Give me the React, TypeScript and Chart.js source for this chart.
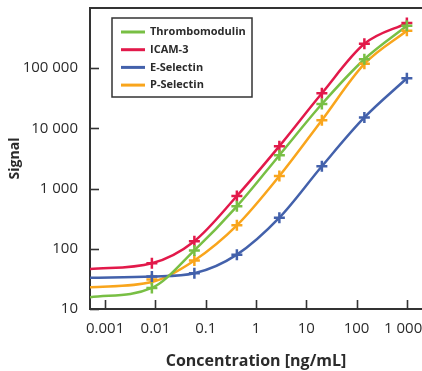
import React, { useEffect, useRef } from "react";
import { Chart, registerables } from "chart.js";

Chart.register(...registerables);

// ---- data ----
const concentrations = [0.0085, 0.0595, 0.4165, 2.915, 20.41, 142.9, 1000];
const fitConcentrations = [0.0005, 0.0085, 0.0595, 0.4165, 2.915, 20.41, 142.9, 1000];

const seriesLabels = ["Thrombomodulin", "ICAM-3", "E-Selectin", "P-Selectin"];
const seriesColors = ["#78bf44", "#e2194a", "#4361ab", "#f9a51c"];

const thrombomodulinSignal = [22.4, 94, 507, 3590, 25400, 141000, 507000];
const icam3Signal = [57.5, 134, 753, 5070, 38300, 254000, 562000];
const eSelectinSignal = [34.5, 39.2, 80, 329, 2350, 15200, 68100];
const pSelectinSignal = [31, 64, 245, 1620, 13700, 118000, 419000];

const thrombomodulinFit = [15.6, 22.4, 94, 507, 3590, 25400, 141000, 507000];
const icam3Fit = [46, 57.5, 134, 753, 5070, 38300, 254000, 562000];
const eSelectinFit = [32.9, 34.5, 39.2, 80, 329, 2350, 15200, 68100];
const pSelectinFit = [22.9, 28, 64, 245, 1620, 13700, 118000, 419000];

const xTickValues = [0.001, 0.01, 0.1, 1, 10, 100, 1000];
const xTickLabels = ["0.001", "0.01", "0.1", "1", "10", "100", "1 000"];
const yTickValues = [10, 100, 1000, 10000, 100000];
const yTickLabels = ["10", "100", "1 000", "10 000", "100 000"];

const xTitle = "Concentration [ng/mL]";
const yTitle = "Signal";

const signals = [thrombomodulinSignal, icam3Signal, eSelectinSignal, pSelectinSignal];
const fits = [thrombomodulinFit, icam3Fit, eSelectinFit, pSelectinFit];

// ---- styles ----
const FONT = "'Open Sans', 'Noto Sans', sans-serif";
const AXIS_COLOR = "#333333";
const TEXT_COLOR = "#2b2b2b";

const framePlugin = {
  id: "frame",
  afterDraw(chart: any) {
    const { ctx, chartArea, scales } = chart;
    const xs = scales.x;
    const ys = scales.y;
    ctx.save();
    ctx.strokeStyle = AXIS_COLOR;
    ctx.lineCap = "butt";
    // top frame line
    ctx.lineWidth = 2;
    ctx.beginPath();
    ctx.moveTo(chartArea.left - 1, chartArea.top);
    ctx.lineTo(chartArea.right, chartArea.top);
    ctx.stroke();
    // inward ticks
    ctx.lineWidth = 1.6;
    for (const v of xTickValues) {
      const px = Math.round(xs.getPixelForValue(v)) + 0.5;
      ctx.beginPath();
      ctx.moveTo(px, chartArea.bottom);
      ctx.lineTo(px, chartArea.bottom - 9);
      ctx.stroke();
    }
    for (const v of yTickValues) {
      const py = Math.round(ys.getPixelForValue(v)) + 0.5;
      ctx.beginPath();
      ctx.moveTo(chartArea.left, py);
      ctx.lineTo(chartArea.left + 9, py);
      ctx.stroke();
    }
    // legend box
    const bx = 112, by = 18, bw = 140, bh = 79;
    ctx.lineWidth = 1.5;
    ctx.fillStyle = "#ffffff";
    ctx.fillRect(bx, by, bw, bh);
    ctx.strokeRect(bx, by, bw, bh);
    ctx.font = `bold 11px ${FONT}`;
    ctx.textBaseline = "middle";
    ctx.textAlign = "left";
    seriesLabels.forEach((label, i) => {
      const y = by + 14 + i * 17.7;
      ctx.strokeStyle = seriesColors[i];
      ctx.lineWidth = 3;
      ctx.beginPath();
      ctx.moveTo(121, y);
      ctx.lineTo(145, y);
      ctx.stroke();
      ctx.fillStyle = TEXT_COLOR;
      ctx.fillText(label, 150, y);
    });
    ctx.restore();
  },
};

export default function App() {
  const canvasRef = useRef<HTMLCanvasElement | null>(null);

  useEffect(() => {
    const canvas = canvasRef.current;
    if (!canvas) return;

    const datasets: any[] = [];
    seriesLabels.forEach((label, i) => {
      datasets.push({
        type: "line",
        label,
        data: fitConcentrations.map((x, j) => ({ x, y: fits[i][j] })),
        borderColor: seriesColors[i],
        backgroundColor: seriesColors[i],
        borderWidth: 2.5,
        pointRadius: 0,
        cubicInterpolationMode: "monotone",
        fill: false,
        order: 2,
      });
      datasets.push({
        type: "line",
        label: label + " (measured)",
        data: concentrations.map((x, j) => ({ x, y: signals[i][j] })),
        showLine: false,
        borderColor: seriesColors[i],
        backgroundColor: seriesColors[i],
        pointStyle: "cross",
        pointRadius: 5.5,
        pointBorderWidth: 2.5,
        pointBorderColor: seriesColors[i],
        order: 1,
      });
    });

    const chart = new Chart(canvas, {
      type: "line",
      data: { datasets },
      options: {
        responsive: false,
        animation: false,
        events: [],
        layout: { autoPadding: false, padding: { top: 8, left: 0, right: 0, bottom: 0 } },
        plugins: {
          legend: { display: false },
          tooltip: { enabled: false },
        },
        scales: {
          x: {
            type: "logarithmic",
            position: "bottom",
            min: 0.0005,
            max: 2000,
            afterBuildTicks: (s: any) => {
              s.ticks = xTickValues.map((v) => ({ value: v }));
            },
            afterFit: (s: any) => {
              s.height = 62;
              s.paddingLeft = 0;
              s.paddingRight = 0;
            },
            grid: { display: false, drawTicks: false },
            border: { display: true, color: AXIS_COLOR, width: 2 },
            ticks: {
              autoSkip: false,
              maxRotation: 0,
              minRotation: 0,
              padding: 11,
              color: TEXT_COLOR,
              font: { family: FONT, size: 15 },
              // last label nudged left (trailing en space) so it stays inside the canvas
              callback: (_v: any, i: number) =>
                i === xTickLabels.length - 1 ? xTickLabels[i] + "\u2002" : xTickLabels[i],
            },
            title: {
              display: true,
              text: xTitle,
              color: TEXT_COLOR,
              font: { family: FONT, size: 16, weight: "bold" },
              padding: { top: 0, bottom: 0 },
            },
          },
          y: {
            type: "logarithmic",
            position: "left",
            min: 10,
            max: 1000000,
            afterBuildTicks: (s: any) => {
              s.ticks = yTickValues.map((v) => ({ value: v }));
            },
            afterFit: (s: any) => {
              s.width = 90;
              s.paddingTop = 0;
              s.paddingBottom = 0;
            },
            grid: { display: false, drawTicks: false },
            border: { display: true, color: AXIS_COLOR, width: 2 },
            ticks: {
              autoSkip: false,
              padding: 12,
              color: TEXT_COLOR,
              font: { family: FONT, size: 15 },
              callback: (_v: any, i: number) => yTickLabels[i],
            },
            title: {
              display: true,
              text: yTitle,
              color: TEXT_COLOR,
              font: { family: FONT, size: 14, weight: "bold" },
              padding: { top: 7, bottom: 0 },
            },
          },
        },
      },
      plugins: [framePlugin],
    } as any);

    return () => chart.destroy();
  }, []);

  return (
    <div style={{ position: "fixed", left: 0, top: 0, width: 422, height: 371, background: "#ffffff" }}>
      <canvas ref={canvasRef} width={422} height={371} style={{ display: "block" }} />
    </div>
  );
}
